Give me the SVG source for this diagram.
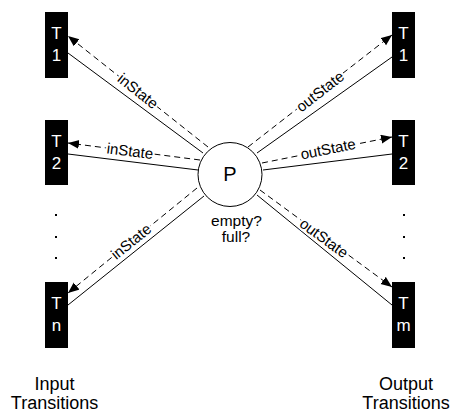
<svg xmlns="http://www.w3.org/2000/svg" width="451" height="417" viewBox="0 0 451 417">
<style>
.box{fill:#000}
.bt{fill:#fff;font-family:"Liberation Sans",Arial,sans-serif;font-size:17px;text-anchor:middle}
.solid{stroke:#000;stroke-width:1;fill:none}
.dash{stroke:#000;stroke-width:1;fill:none;stroke-dasharray:6 4}
.lbl{font-family:"Liberation Sans",Arial,sans-serif;font-size:15px;text-anchor:middle;fill:#000;stroke:#fff;stroke-width:4;paint-order:stroke;stroke-linejoin:round}
.txt{font-family:"Liberation Sans",Arial,sans-serif;fill:#000;text-anchor:middle}
.dot{fill:#000}
</style>
<defs>
<marker id="arr" markerUnits="userSpaceOnUse" markerWidth="12" markerHeight="10" refX="11" refY="4.5" orient="auto">
<path d="M0,0 L11,4.5 L0,9 z" fill="#000"/>
</marker>
</defs>
<rect width="451" height="417" fill="#fff"/>
<g id="connectors">
<line class="solid" x1="68" y1="53" x2="203" y2="153"/>
<line class="dash" x1="208" y1="147" x2="68" y2="36" marker-end="url(#arr)"/>
<line class="solid" x1="68" y1="154" x2="198" y2="170"/>
<line class="dash" x1="200" y1="160" x2="68" y2="143" marker-end="url(#arr)"/>
<line class="solid" x1="68" y1="305" x2="204" y2="196"/>
<line class="dash" x1="197" y1="188" x2="68" y2="293" marker-end="url(#arr)"/>
<line class="solid" x1="257" y1="153" x2="392" y2="57"/>
<line class="dash" x1="248" y1="147" x2="392" y2="35" marker-end="url(#arr)"/>
<line class="solid" x1="263" y1="170" x2="392" y2="154"/>
<line class="dash" x1="262" y1="163" x2="392" y2="137" marker-end="url(#arr)"/>
<line class="solid" x1="257" y1="195" x2="392" y2="305"/>
<line class="dash" x1="260" y1="190" x2="392" y2="287" marker-end="url(#arr)"/>
<text class="lbl" transform="translate(138,91) rotate(38.4)" dy="0.35em">inState</text>
<text class="lbl" transform="translate(130,151) rotate(7.3)" dy="0.35em">inState</text>
<text class="lbl" transform="translate(131,241.5) rotate(-39.1)" dy="0.35em">inState</text>
<text class="lbl" transform="translate(320,91.5) rotate(-37.9)" dy="0.35em">outState</text>
<text class="lbl" transform="translate(328,149) rotate(-11.3)" dy="0.35em">outState</text>
<text class="lbl" transform="translate(324,238) rotate(36.3)" dy="0.35em">outState</text>
</g>
<g id="P">
<circle cx="230" cy="174.5" r="32" fill="#fff" stroke="#000" stroke-width="1"/>
<text class="txt" x="230" y="181" font-size="20">P</text>
<text class="txt" x="236.5" y="226" font-size="15.5">empty?</text>
<text class="txt" x="236" y="242" font-size="15.5">full?</text>
</g>
<g id="in-T1"><rect class="box" x="45" y="12" width="23" height="66"/><text class="bt" x="56.5" y="39">T</text><text class="bt" x="56.5" y="61">1</text></g>
<g id="in-T2"><rect class="box" x="45" y="120" width="23" height="65"/><text class="bt" x="56.5" y="147">T</text><text class="bt" x="56.5" y="169">2</text></g>
<g id="in-Tn"><rect class="box" x="45" y="282" width="23" height="66"/><text class="bt" x="56.5" y="309">T</text><text class="bt" x="56.5" y="331">n</text></g>
<g id="out-T1"><rect class="box" x="392" y="12" width="23" height="66"/><text class="bt" x="403.5" y="39">T</text><text class="bt" x="403.5" y="61">1</text></g>
<g id="out-T2"><rect class="box" x="392" y="120" width="23" height="65"/><text class="bt" x="403.5" y="147">T</text><text class="bt" x="403.5" y="169">2</text></g>
<g id="out-Tm"><rect class="box" x="392" y="282" width="23" height="66"/><text class="bt" x="403.5" y="309">T</text><text class="bt" x="403.5" y="331">m</text></g>
<g id="dots-left">
<rect class="dot" x="55" y="214" width="2" height="2"/>
<rect class="dot" x="55" y="236" width="2" height="2"/>
<rect class="dot" x="55" y="257" width="2" height="2"/>
</g>
<g id="dots-right">
<rect class="dot" x="403" y="214" width="2" height="2"/>
<rect class="dot" x="403" y="236" width="2" height="2"/>
<rect class="dot" x="403" y="257" width="2" height="2"/>
</g>
<g id="input-label">
<text class="txt" x="54.5" y="390" font-size="18">Input</text>
<text class="txt" x="54.5" y="409" font-size="18">Transitions</text>
</g>
<g id="output-label">
<text class="txt" x="406" y="390" font-size="18">Output</text>
<text class="txt" x="406" y="409" font-size="18">Transitions</text>
</g>
</svg>
